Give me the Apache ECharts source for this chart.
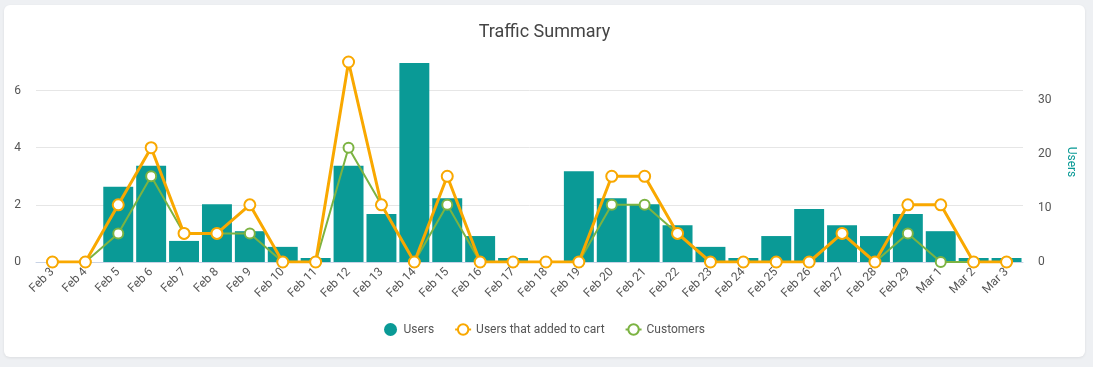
<!DOCTYPE html>
<html>
<head>
<meta charset="utf-8">
<script src="https://cdn.jsdelivr.net/npm/echarts@6/dist/echarts.min.js"></script>
<style>
html,body{margin:0;padding:0;background:#eef0f3;width:1093px;height:367px;overflow:hidden;}
#card{position:absolute;left:4px;top:5px;width:1081px;height:352px;background:#fff;border-radius:6px;box-shadow:0 1px 3px rgba(0,0,0,0.08);}
#chart{width:1081px;height:352px;}
</style>
</head>
<body>
<div id="card"><div id="chart"></div></div>
<script>
const categories = ['Feb 3','Feb 4','Feb 5','Feb 6','Feb 7','Feb 8','Feb 9','Feb 10','Feb 11','Feb 12','Feb 13','Feb 14','Feb 15','Feb 16','Feb 17','Feb 18','Feb 19','Feb 20','Feb 21','Feb 22','Feb 23','Feb 24','Feb 25','Feb 26','Feb 27','Feb 28','Feb 29','Mar 1','Mar 2','Mar 3'];
const users = [0,0,13.9,17.8,3.9,10.7,5.7,2.8,0.74,17.8,8.9,36.8,11.8,4.8,0.74,0,16.8,11.8,10.7,6.8,2.8,0.74,4.8,9.8,6.8,4.8,8.9,5.7,0.74,0.74];
const addedToCart = [0,0,2,4,1,1,2,0,0,7,2,0,3,0,0,0,0,3,3,1,0,0,0,0,1,0,2,2,0,0];
const customers = [0,0,1,3,1,1,1,0,0,4,2,0,2,0,0,0,0,2,2,1,0,0,0,0,1,0,1,0,0,0];

const FONT = 'Roboto';
const chart = echarts.init(document.getElementById('chart'), null, {renderer:'canvas'});
chart.setOption({
  animation:false,
  textStyle:{fontFamily:FONT},
  title:{text:'Traffic Summary', left:'center', top:13, textStyle:{fontFamily:FONT,fontSize:18,fontWeight:'normal',color:'#444'}},
  legend:{
    bottom:16, left:'center', itemGap:20, itemWidth:16, itemHeight:13,
    textStyle:{fontFamily:FONT,fontSize:12,color:'#555'},
    data:[{name:'Users',icon:'circle'},'Users that added to cart','Customers']
  },
  grid:{left:32, right:62, top:57, bottom:95},
  xAxis:{
    type:'category', data:categories,
    axisLine:{lineStyle:{color:'#c8d3e6'}},
    axisTick:{show:false},
    axisLabel:{rotate:45, fontSize:12, color:'#555', margin:8, interval:0, fontFamily:FONT}
  },
  yAxis:[
    {type:'value', min:0, max:7, interval:2, position:'left',
     axisLabel:{fontSize:12,color:'#555',margin:15,showMaxLabel:false,fontFamily:FONT},
     splitLine:{lineStyle:{color:'#e6e6e6'}, showMaxLine:false},
     axisLine:{show:false}, axisTick:{show:false}},
    {type:'value', min:0, max:37, interval:10, position:'right',
     name:'Users', nameLocation:'middle', nameRotate:-90, nameGap:42,
     nameTextStyle:{color:'#0a9a96',fontSize:12,fontFamily:FONT},
     axisLabel:{fontSize:12,color:'#555',margin:15,showMaxLabel:false,fontFamily:FONT},
     splitLine:{show:false},
     axisLine:{show:false}, axisTick:{show:false}}
  ],
  series:[
    {name:'Users', type:'bar', yAxisIndex:1, data:users, barCategoryGap:'9%',
     itemStyle:{color:'#0a9a96'}, z:1},
    {name:'Users that added to cart', type:'line', yAxisIndex:0, data:addedToCart,
     symbol:'circle', symbolSize:11, showAllSymbol:true,
     lineStyle:{color:'#f9a800', width:3},
     itemStyle:{color:'#fff', borderColor:'#f9a800', borderWidth:2},
     z:4},
    {name:'Customers', type:'line', yAxisIndex:0, data:customers,
     symbol:'circle', symbolSize:10, showAllSymbol:true,
     lineStyle:{color:'#7cb342', width:2},
     itemStyle:{color:'#fff', borderColor:'#7cb342', borderWidth:2},
     z:3}
  ]
});
</script>
</body>
</html>
